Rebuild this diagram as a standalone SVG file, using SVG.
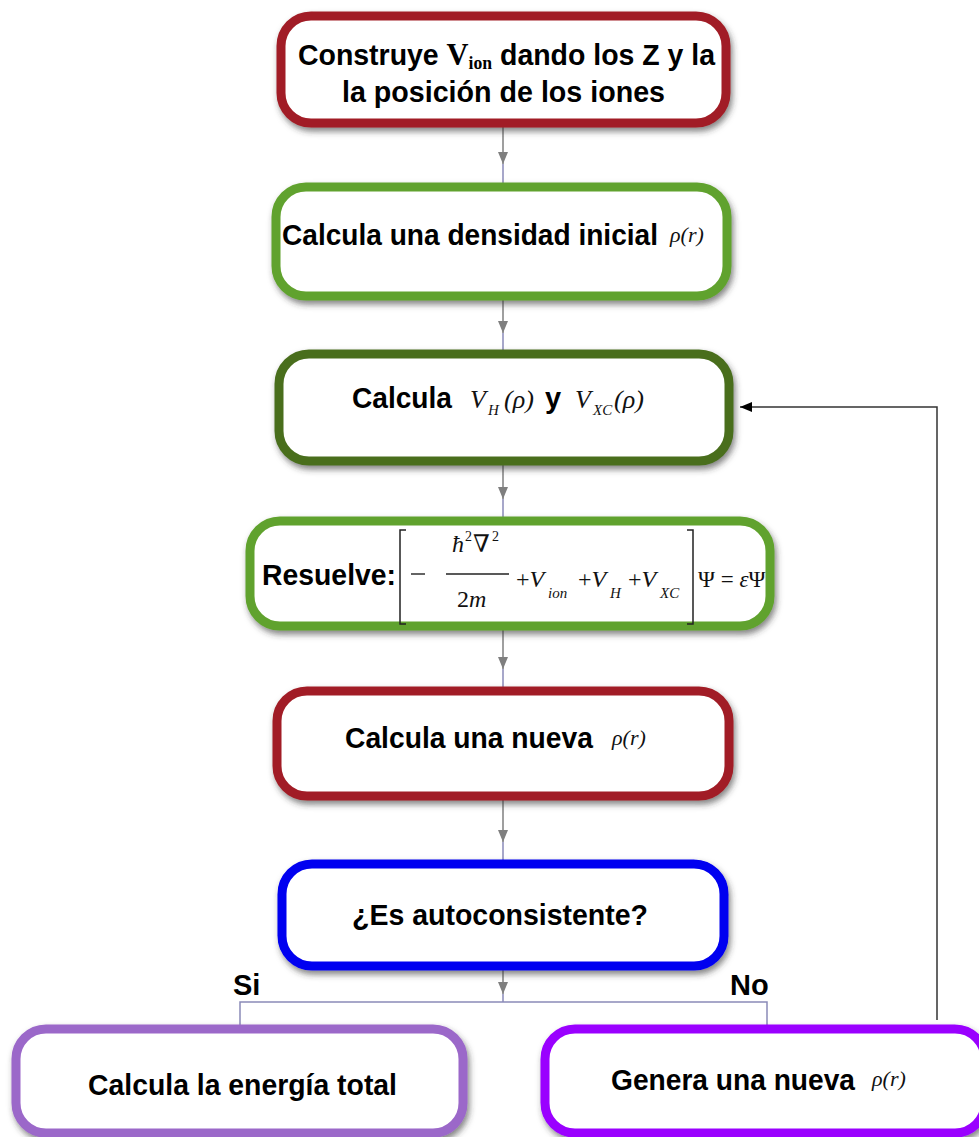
<svg xmlns="http://www.w3.org/2000/svg" width="979" height="1137" viewBox="0 0 979 1137">
<style>
.box{fill:#fff;stroke-width:9}
.t{font-family:"Liberation Sans",Arial,sans-serif;font-weight:bold;font-size:29px;fill:#000}
.m{font-family:"Liberation Serif","DejaVu Serif",serif;font-style:italic;fill:#111}
.n{font-style:normal}
.c{stroke:#7f7f7f;stroke-width:1.5;fill:none}
.s{stroke:#8a8ab8;stroke-width:1.5;fill:none}
.f{stroke:#333;stroke-width:1.5;fill:none}
</style>
<defs>
<filter id="sh" x="-5%" y="-10%" width="115%" height="135%"><feDropShadow dx="2" dy="4" stdDeviation="3" flood-color="#333" flood-opacity="0.6"/></filter>
<marker id="ag" viewBox="0 0 12 10" refX="12" refY="5" markerWidth="12" markerHeight="10" orient="auto" markerUnits="userSpaceOnUse"><path d="M0 0L12 5L0 10z" fill="#7f7f7f"/></marker>
<marker id="ab" viewBox="0 0 12 10" refX="12" refY="5" markerWidth="12" markerHeight="10" orient="auto" markerUnits="userSpaceOnUse"><path d="M0 0L12 5L0 10z" fill="#000"/></marker>
</defs>

<g id="connectors">
<path class="c" d="M503 127V164" marker-end="url(#ag)"/><path class="s" d="M503 164V183"/>
<path class="c" d="M503 300V333" marker-end="url(#ag)"/><path class="s" d="M503 333V350"/>
<path class="c" d="M503 465V499" marker-end="url(#ag)"/><path class="s" d="M503 499V517"/>
<path class="c" d="M503 630V669" marker-end="url(#ag)"/><path class="s" d="M503 669V687"/>
<path class="c" d="M503 800V842" marker-end="url(#ag)"/><path class="s" d="M503 842V860"/>
<path class="c" d="M503 970V994" marker-end="url(#ag)"/><path class="s" d="M503 994V1002"/>
<path class="s" d="M240 1027V1002H767V1027"/>
<path class="f" d="M937 1020V407H740" marker-end="url(#ab)"/>
<text class="t" x="233" y="995" font-size="27">Si</text>
<text class="t" x="730" y="995" font-size="27">No</text>
</g>

<g id="n1">
<rect class="box" x="281" y="16" width="445" height="107" rx="30" stroke="#a11d25" filter="url(#sh)"/>
<text class="t" x="298" y="65" textLength="417" lengthAdjust="spacingAndGlyphs">Construye <tspan font-family="Liberation Serif,serif" font-size="31">V</tspan><tspan font-family="Liberation Serif,serif" font-size="18" dy="4">ion</tspan><tspan dy="-4"> dando los Z y la</tspan></text>
<text class="t" x="342" y="102" textLength="323" lengthAdjust="spacingAndGlyphs">la posición de los iones</text>
</g>

<g id="n2">
<rect class="box" x="276" y="187" width="451" height="109" rx="30" stroke="#61a22d" filter="url(#sh)"/>
<text class="t" x="282" y="245" font-size="28" textLength="376" lengthAdjust="spacingAndGlyphs">Calcula una densidad inicial</text>
<text class="m" x="670" y="242" font-size="22">ρ(r)</text>
</g>

<g id="n3">
<rect class="box" x="279" y="354" width="450" height="107" rx="30" stroke="#4a6e1e" filter="url(#sh)"/>
<text class="t" x="352" y="408" textLength="100" lengthAdjust="spacingAndGlyphs">Calcula</text>
<text class="m" x="470" y="408" font-size="26">V</text>
<text class="m" x="488" y="415" font-size="15">H</text>
<text class="m" x="504" y="408" font-size="26">(ρ)</text>
<text class="t" x="545" y="408">y</text>
<text class="m" x="575" y="408" font-size="26">V</text>
<text class="m" x="593" y="415" font-size="15">XC</text>
<text class="m" x="614" y="408" font-size="26">(ρ)</text>
</g>

<g id="n4">
<rect class="box" x="250" y="521" width="520" height="105" rx="30" stroke="#61a22d" filter="url(#sh)"/>
<text class="t" x="262" y="585" textLength="134" lengthAdjust="spacingAndGlyphs">Resuelve:</text>
<path d="M406 530H400V624H406" stroke="#222" stroke-width="1.5" fill="none"/>
<path d="M411 574H425" stroke="#222" stroke-width="1.4"/>
<text class="m" x="452" y="552" font-size="24">ħ</text>
<text class="m n" x="465" y="541" font-size="14">2</text>
<text class="m n" x="473" y="552" font-size="24">∇</text>
<text class="m n" x="492" y="541" font-size="14">2</text>
<path d="M446 574H509" stroke="#222" stroke-width="1.4"/>
<text class="m" x="457" y="607" font-size="24"><tspan class="n">2</tspan>m</text>
<text class="m" x="516" y="587" font-size="24"><tspan class="n">+</tspan>V</text>
<text class="m" x="548" y="598" font-size="15">ion</text>
<text class="m" x="578" y="587" font-size="24"><tspan class="n">+</tspan>V</text>
<text class="m" x="610" y="598" font-size="15">H</text>
<text class="m" x="628" y="587" font-size="24"><tspan class="n">+</tspan>V</text>
<text class="m" x="660" y="598" font-size="15">XC</text>
<path d="M687 530H693V624H687" stroke="#222" stroke-width="1.5" fill="none"/>
<text class="m" x="698" y="587" font-size="23"><tspan class="n">Ψ = </tspan>ε<tspan class="n">Ψ</tspan></text>
</g>

<g id="n5">
<rect class="box" x="277" y="691" width="452" height="105" rx="30" stroke="#a11d25" filter="url(#sh)"/>
<text class="t" x="345" y="748" textLength="248" lengthAdjust="spacingAndGlyphs">Calcula una nueva</text>
<text class="m" x="612" y="745" font-size="22">ρ(r)</text>
</g>

<g id="n6">
<rect class="box" x="282" y="864" width="442" height="102" rx="30" stroke="#0000f0" filter="url(#sh)"/>
<text class="t" x="352" y="925" textLength="296" lengthAdjust="spacingAndGlyphs">¿Es autoconsistente?</text>
</g>

<g id="n7">
<rect class="box" x="16" y="1029" width="447" height="104" rx="30" stroke="#9b67c9" filter="url(#sh)"/>
<text class="t" x="88" y="1095" textLength="309" lengthAdjust="spacingAndGlyphs">Calcula la energía total</text>
</g>

<g id="n8">
<rect class="box" x="545" y="1029" width="440" height="104" rx="30" stroke="#9a00ff" filter="url(#sh)"/>
<text class="t" x="611" y="1090" textLength="244" lengthAdjust="spacingAndGlyphs">Genera una nueva</text>
<text class="m" x="872" y="1086" font-size="22">ρ(r)</text>
</g>
</svg>
